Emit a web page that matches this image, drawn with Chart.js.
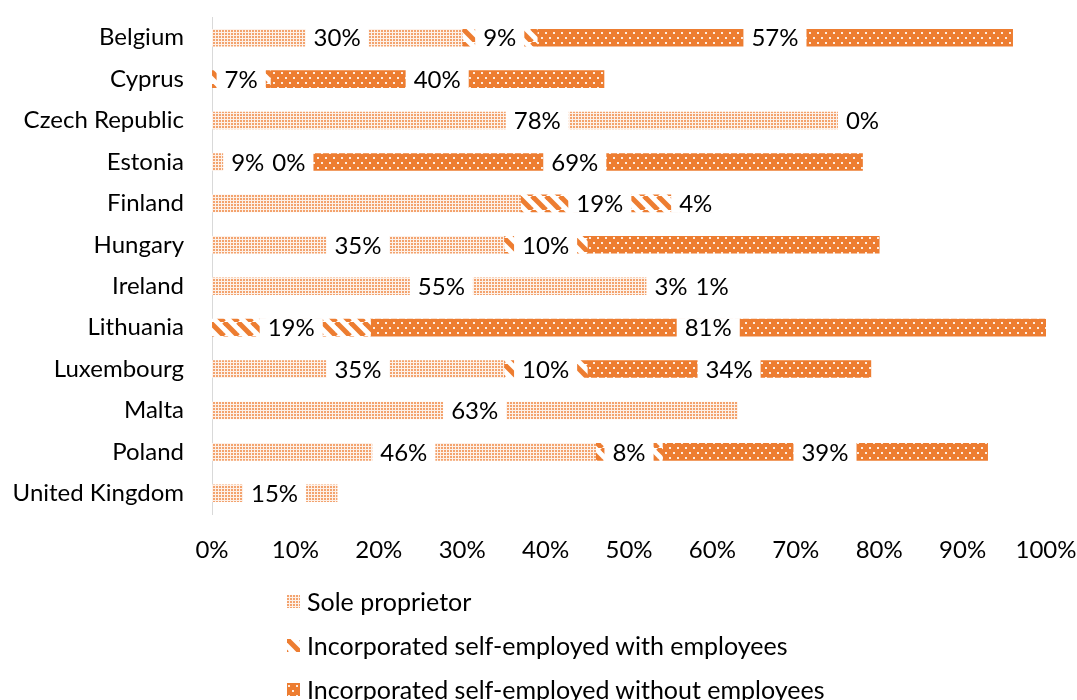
<!DOCTYPE html>
<html>
<head>
<meta charset="utf-8">
<title>Self-employed by type</title>
<script src="https://cdn.jsdelivr.net/npm/chart.js@4.4.0/dist/chart.umd.min.js"></script>
<style>
  body { margin: 0; background: #fff; }
  #wrap { position: relative; width: 1077px; height: 700px; }
  #legend { position: absolute; left: 287px; top: 579px; font-family: 'Lato', sans-serif; font-size: 25px; color: #000; }
  .item { height: 44px; display: flex; align-items: center; }
  .swatch { width: 13px; height: 13px; margin-right: 7px; }
</style>
</head>
<body>
<div id="wrap">
  <canvas id="chart" width="1077" height="700"></canvas>
  <div id="legend"></div>
</div>
<script>
const countries = ['Belgium', 'Cyprus', 'Czech Republic', 'Estonia', 'Finland', 'Hungary',
    'Ireland', 'Lithuania', 'Luxembourg', 'Malta', 'Poland', 'United Kingdom'];
const seriesNames = ['Sole proprietor', 'Incorporated self-employed with employees',
    'Incorporated self-employed without employees'];
const soleProprietor = [30, null, 78, 9, 37, 35, 55, null, 35, 63, 46, 15];
const withEmployees = [9, 7, 0, 0, 19, 10, 3, 19, 10, null, 8, null];
const withoutEmployees = [57, 40, null, 69, 4, 35, 1, 81, 34, null, 39, null];
// data labels that the original chart does not show: [series index, country]
const unlabelled = [[0, 'Finland'], [2, 'Hungary']];
const xTicks = [0, 10, 20, 30, 40, 50, 60, 70, 80, 90, 100];

// pattern fills
function makePattern(kind) {
    const c = document.createElement('canvas');
    const g = c.getContext('2d');
    if (kind === 'sole') {
        c.width = 3; c.height = 3;
        g.fillStyle = '#fdf1e9';
        g.fillRect(0, 0, 3, 3);
        g.fillStyle = '#f3a36e';
        g.fillRect(0, 0, 2, 2);
    } else if (kind === 'hatch') {
        const t = 14;
        c.width = t; c.height = t;
        g.fillStyle = '#fff';
        g.fillRect(0, 0, t, t);
        g.strokeStyle = '#ed7d31';
        g.lineWidth = 5;
        [-t, 0, t].forEach(k => {
            g.beginPath();
            g.moveTo(k, 0);
            g.lineTo(k + t, t);
            g.stroke();
        });
    } else {
        c.width = 8; c.height = 10;
        g.fillStyle = '#ed7d31';
        g.fillRect(0, 0, 8, 10);
        g.fillStyle = 'rgba(255,255,255,0.85)';
        g.fillRect(1, 2, 2, 2);
        g.fillRect(5, 7, 2, 2);
    }
    return c;
}

const ctx = document.getElementById('chart').getContext('2d');
const tiles = [makePattern('sole'), makePattern('hatch'), makePattern('dots')];
const fills = tiles.map(t => ctx.createPattern(t, 'repeat'));

// legend in html, one entry per row
const legend = document.getElementById('legend');
seriesNames.forEach((name, i) => {
    const row = document.createElement('div');
    row.className = 'item';
    row.innerHTML = `<span class="swatch" style="background-image:url(${tiles[i].toDataURL()})"></span><span>${name}</span>`;
    legend.appendChild(row);
});

const labelPlugin = {
    id: 'segmentLabels',
    afterDatasetsDraw(chart) {
        const c = chart.ctx;
        c.save();
        c.font = '24px Lato';
        c.textAlign = 'center';
        c.textBaseline = 'middle';
        countries.forEach((country, i) => {
            const boxes = [];
            chart.data.datasets.forEach((ds, d) => {
                const v = ds.data[i];
                if (v === null) return;
                if (unlabelled.some(u => u[0] === d && u[1] === country)) return;
                const bar = chart.getDatasetMeta(d).data[i];
                const text = v + '%';
                boxes.push({ text, cx: (bar.x + bar.base) / 2, y: bar.y, h: bar.height, w: c.measureText(text).width });
            });
            // push apart labels that would run into each other
            for (let k = 1; k < boxes.length; k++) {
                const a = boxes[k - 1], b = boxes[k];
                const need = (a.w + b.w) / 2 + 8;
                const gap = b.cx - a.cx;
                if (gap < need) {
                    a.cx -= (need - gap) / 2;
                    b.cx += (need - gap) / 2;
                }
            }
            boxes.forEach(b => {
                c.fillStyle = '#fff';
                c.fillRect(b.cx - b.w / 2 - 8, b.y - b.h / 2 - 1, b.w + 16, b.h + 2);
                c.fillStyle = '#000';
                c.fillText(b.text, b.cx, b.y + 1);
            });
        });
        c.restore();
    }
};

Chart.defaults.font.family = 'Lato';
Chart.defaults.font.size = 24;
Chart.defaults.color = '#000';

new Chart(ctx, {
    type: 'bar',
    data: {
        labels: countries,
        datasets: [soleProprietor, withEmployees, withoutEmployees].map((values, i) => ({
            label: seriesNames[i],
            data: values,
            backgroundColor: fills[i],
            borderWidth: 0,
            barThickness: 17
        }))
    },
    options: {
        indexAxis: 'y',
        responsive: false,
        animation: false,
        layout: { padding: { top: 17, right: 31, bottom: 136, left: 0 } },
        plugins: {
            legend: { display: false },
            tooltip: { enabled: false }
        },
        scales: {
            x: {
                stacked: true,
                min: 0,
                max: 100,
                afterBuildTicks: (scale) => { scale.ticks = xTicks.map(v => ({ value: v })); },
                ticks: { callback: (v) => v + '%', padding: 14, maxRotation: 0 },
                grid: { display: false },
                border: { display: false },
                afterFit: (scale) => {
                    scale.height = 50;
                    scale.paddingLeft = 0;
                    scale.paddingRight = 0;
                }
            },
            y: {
                stacked: true,
                ticks: { padding: 20 },
                grid: { display: false },
                border: { color: '#d9d9d9', width: 1 },
                afterFit: (scale) => {
                    scale.width = 212;
                    scale.paddingTop = 0;
                    scale.paddingBottom = 0;
                }
            }
        }
    },
    plugins: [labelPlugin]
});
</script>
</body>
</html>
